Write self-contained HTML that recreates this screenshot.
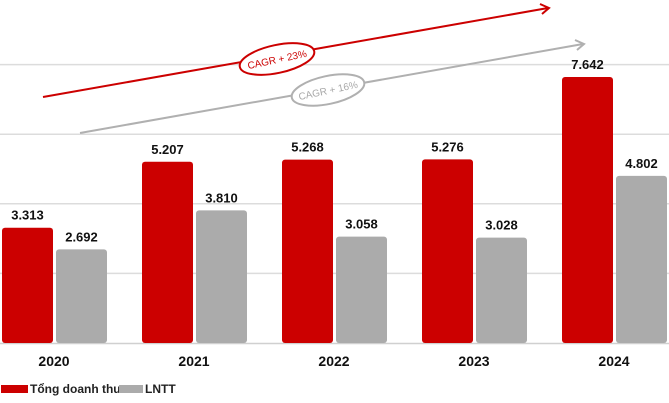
<!DOCTYPE html>
<html><head><meta charset="utf-8"><style>
html,body{margin:0;padding:0;background:#fff;}
svg{display:block;font-family:"Liberation Sans",Arial,sans-serif;}
</style></head><body>
<svg id="chart" width="669" height="403" viewBox="0 0 669 403">
<g id="grid"></g>
<g>
 <line x1="43" y1="97" x2="548" y2="8" stroke="#cc0000" stroke-width="2"/>
 <polyline points="540,4 549,8 542,14" fill="none" stroke="#cc0000" stroke-width="2"/>
 <line x1="80" y1="133" x2="583" y2="44" stroke="#b0b0b0" stroke-width="2"/>
 <polyline points="575,40 584,44 577,50" fill="none" stroke="#b0b0b0" stroke-width="2"/>
 <g transform="translate(277,59) rotate(-12)">
  <ellipse rx="38" ry="14" fill="#fff" stroke="#cc0000" stroke-width="2"/>
  <text y="4" text-anchor="middle" font-size="10" fill="#cc0000">CAGR + 23%</text>
 </g>
 <g transform="translate(328,90) rotate(-12)">
  <ellipse rx="37" ry="14" fill="#fff" stroke="#b0b0b0" stroke-width="2"/>
  <text y="4" text-anchor="middle" font-size="10" fill="#a8a8a8">CAGR + 16%</text>
 </g>
</g>
<g id="bars"></g>
<g>
 <rect x="1" y="385" width="27" height="8" fill="#cc0000"/>
 <text x="30" y="393" font-size="12" font-weight="bold" fill="#222">Tổng doanh thu</text>
 <rect x="119" y="385" width="24" height="8" fill="#ababab"/>
 <text x="145" y="393" font-size="12" font-weight="bold" fill="#222">LNTT</text>
</g>
</svg>
<script>
const categories = ["2020","2021","2022","2023","2024"];
const revenue = [3.313,5.207,5.268,5.276,7.642];
const profit = [2.692,3.810,3.058,3.028,4.802];
const gridValues = [2,4,6,8];
const NS="http://www.w3.org/2000/svg";
const baseY=343, scale=34.8;
const y=v=>baseY-v*scale;
const groupX=i=>2+i*140;
const fmt=v=>v.toFixed(3).replace('.','.');
function mk(tag,attrs,parent){const e=document.createElementNS(NS,tag);for(const k in attrs)e.setAttribute(k,attrs[k]);parent.appendChild(e);return e;}
const grid=document.getElementById('grid'), bars=document.getElementById('bars');
gridValues.forEach(v=>{
 const l=mk('line',{x1:0,x2:669,y1:y(v),y2:y(v),stroke:'#dcdcdc','stroke-width':1.5},grid);
 
 
});
const base=mk('line',{x1:0,x2:669,y1:baseY+0.5,y2:baseY+0.5,stroke:'#d0d0d0','stroke-width':1.5},grid);


categories.forEach((c,i)=>{
 const gx=groupX(i);
 [[revenue[i],'#cc0000',gx,'revenue'],[profit[i],'#ababab',gx+54,'profit']].forEach(([v,col,x,nm])=>{
  const r=mk('rect',{x:x,y:y(v),width:51,height:v*scale,rx:3,fill:col},bars);
  
  
  const t=mk('text',{x:x+25.5,y:y(v)-8,'text-anchor':'middle','font-size':13,'font-weight':'bold',fill:'#111'},bars);
  t.textContent=fmt(v);
  
  
 });
 const t=mk('text',{x:gx+52,y:366,'text-anchor':'middle','font-size':14,'font-weight':'bold',fill:'#111'},bars);
 t.textContent=c;
 
 
});
</script>
</body></html>
